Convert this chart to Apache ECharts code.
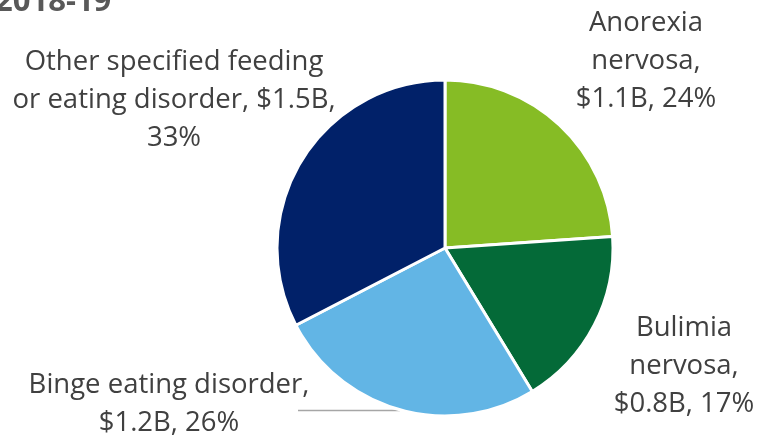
<!DOCTYPE html>
<html>
<head>
<meta charset="utf-8">
<script src="https://cdn.jsdelivr.net/npm/echarts@6/dist/echarts.min.js"></script>
<style>
  html, body { margin: 0; padding: 0; background: #fff; }
  #chart { width: 762px; height: 436px; }
</style>
</head>
<body>
<div id="chart"></div>
<script>
// Cost of eating disorders by type, 2018-19 (billions of dollars)
const categories = [
  'Anorexia nervosa',
  'Bulimia nervosa',
  'Binge eating disorder',
  'Other specified feeding or eating disorder'
];
const costBillions = [1.1, 0.8, 1.2, 1.5];
const sliceColors = ['#86BC25', '#046A38', '#62B5E5', '#012169'];
// words per label line for each slice's label
const wordsPerLine = [[1, 1, 2], [1, 1, 2], [3, 2], [3, 4, 1]];
const titleText = '2018-19';

// label anchor (centre of text block) for each slice
const labelAnchors = [[646, 61], [684, 366], [169, 404], [174, 100]];

function wrapLabel(idx, text) {
  const words = text.split(' ');
  const lines = [];
  let k = 0;
  wordsPerLine[idx].forEach(n => {
    lines.push(words.slice(k, k + n).join(' '));
    k += n;
  });
  return lines.join('\n');
}

const chart = echarts.init(document.getElementById('chart'), null, { renderer: 'canvas' });

const option = {
  animation: false,
  backgroundColor: '#ffffff',
  graphic: [{
    type: 'text',
    x: -5,
    y: 2,
    z: 10,
    style: {
      text: titleText,
      font: 'bold 31px "Open Sans", sans-serif',
      fill: '#595959',
      verticalAlign: 'middle'
    }
  }],
  series: [{
    type: 'pie',
    center: [445, 248],
    radius: 168,
    startAngle: 90,
    clockwise: true,
    avoidLabelOverlap: false,
    itemStyle: { borderColor: '#ffffff', borderWidth: 3 },
    label: {
      show: true,
      position: 'outside',
      fontFamily: '"Open Sans", sans-serif',
      fontSize: 27.5,
      lineHeight: 38,
      color: '#404040',
      align: 'center',
      formatter: p => wrapLabel(p.dataIndex,
        p.name + ', $' + p.value.toFixed(1) + 'B, ' + Math.round(p.percent) + '%')
    },
    labelLine: { show: false },
    labelLayout: function (params) {
      const i = params.dataIndex;
      const res = {
        x: labelAnchors[i][0],
        y: labelAnchors[i][1],
        align: 'center',
        verticalAlign: 'middle'
      };
      if (i === 2) {
        res.labelLinePoints = [[400, 410.5], [349, 410.5], [298, 410.5]];
      }
      return res;
    },
    data: categories.map((name, i) => ({
      name: name,
      value: costBillions[i],
      itemStyle: { color: sliceColors[i] },
      labelLine: i === 2
        ? { show: true, lineStyle: { color: '#a6a6a6', width: 1.5 } }
        : { show: false }
    }))
  }]
};

chart.setOption(option);
</script>
</body>
</html>
